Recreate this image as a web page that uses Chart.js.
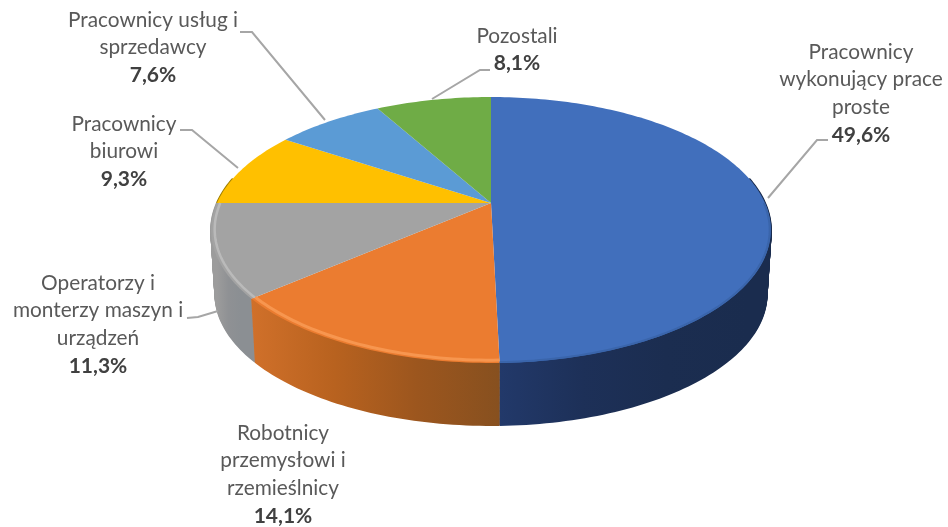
<!DOCTYPE html>
<html>
<head>
<meta charset="utf-8">
<title>Pracownicy</title>
<script src="https://cdn.jsdelivr.net/npm/chart.js@4"></script>
<style>
    html, body { margin: 0; background: #fff; }
    #wrap { width: 948px; height: 527px; filter: blur(0.4px); }
</style>
</head>
<body>
<div id="wrap"><canvas id="chart"></canvas></div>
<script>
// dane
const categories = [
    ["Pracownicy", "wykonujący prace", "proste"],
    ["Robotnicy", "przemysłowi i", "rzemieślnicy"],
    ["Operatorzy i", "monterzy maszyn i", "urządzeń"],
    ["Pracownicy", "biurowi"],
    ["Pracownicy usług i", "sprzedawcy"],
    ["Pozostali"]
];
const values = [49.6, 14.1, 11.3, 9.3, 7.6, 8.1];
const colors = ["#416FBC", "#EB7C30", "#A3A3A3", "#FFC000", "#5B9BD5", "#6FAC46"];

// ściana boczna: kolory gradientu od lewej do prawej
const wallColors = [
    ["#22396a", "#1d3058", "#1b2d50", "#1a2c4e"],
    ["#d0702a", "#b8621f", "#9c561e", "#87501f"],
    ["#9c9c9c", "#8f9194", "#8b8f93", "#8b8f93"],
    ["#a08000", "#a08000", "#a08000", "#a08000"],
    ["#3f6d96", "#3f6d96", "#3f6d96", "#3f6d96"],
    ["#4f7a32", "#4f7a32", "#4f7a32", "#4f7a32"]
];
// jaśniejszy pas przy krawędzi: kolor, promień, grubość
const rimStyles = [
    ["#3a65ab", 0.996, 2],
    ["#f7964f", 0.986, 3],
    ["#bababa", 0.988, 2.5]
];

// pozycje etykiet: środek x, y pierwszej linii
const labelPos = [[861, 52], [283, 433], [98, 283], [124, 124], [153, 20], [517, 36]];
const lineHeight = 27.7;

// linie odniesienia
const leaders = [
    [[828, 140], [817, 140], [768, 198]],
    [],
    [[187, 318], [198, 317], [218, 311]],
    [[180, 130], [192, 130], [238, 168]],
    [[240, 32], [252, 32], [325, 120]],
    [[490, 70], [480, 70], [432, 99]]
];

// rzut perspektywiczny tarczy (okrąg jednostkowy -> ekran)
const view = { cx: 491, cy: 203, rx: 274, ry: 127.5, p: 0.203, depthY: 64.4, depthScale: 0.985 };

function project(angle, r, t) {
    // t: 0 = góra tarczy, 1 = dół
    const u = Math.cos(angle) * r;
    const v = Math.sin(angle) * r;
    const s = 1 / (1 - view.p * v) * (1 + (view.depthScale - 1) * t);
    return [view.cx + view.rx * u * s, view.cy + view.depthY * t + view.ry * v * s];
}

function arcPath(ctx, a0, a1, r, t, first) {
    const steps = Math.max(2, Math.ceil(Math.abs(a1 - a0) / 0.02));
    for (let i = 0; i <= steps; i++) {
        const pt = project(a0 + (a1 - a0) * i / steps, r, t);
        if (i === 0 && first) ctx.moveTo(pt[0], pt[1]);
        else ctx.lineTo(pt[0], pt[1]);
    }
}

const pie3d = {
    id: "pie3d",
    beforeDatasetsDraw(chart) {
        const ctx = chart.ctx;
        const arcs = chart.getDatasetMeta(0).data;
        ctx.save();

        // ściany - warstwy od dołu do góry
        const layers = 64;
        for (let n = layers; n >= 0; n--) {
            const t = n / layers;
            arcs.forEach((arc, i) => {
                const a0 = Math.max(arc.startAngle, -0.2);
                const a1 = Math.min(arc.endAngle, Math.PI + 0.2);
                if (a1 <= a0) return;
                const x0 = project(a1, 1, 0)[0];
                const x1 = project(a0, 1, 0)[0];
                const g = ctx.createLinearGradient(Math.min(x0, x1), 0, Math.max(x0, x1), 0);
                wallColors[i].forEach((c, k) => g.addColorStop(k / 3, c));
                ctx.beginPath();
                arcPath(ctx, a0, a1, 1, t, true);
                ctx.strokeStyle = g;
                ctx.lineWidth = 2;
                ctx.stroke();
            });
        }

        // górna tarcza
        arcs.forEach((arc, i) => {
            ctx.beginPath();
            ctx.moveTo(view.cx, view.cy);
            arcPath(ctx, arc.startAngle, arc.endAngle, 1, 0, false);
            ctx.closePath();
            ctx.fillStyle = colors[i];
            ctx.fill();
        });

        // pas przy krawędzi z przodu
        rimStyles.forEach((rim, i) => {
            const arc = arcs[i];
            const a0 = Math.max(arc.startAngle, 0);
            const a1 = Math.min(arc.endAngle, Math.PI);
            ctx.beginPath();
            arcPath(ctx, a0, a1, rim[1], 0, true);
            ctx.strokeStyle = rim[0];
            ctx.lineWidth = rim[2];
            ctx.stroke();
        });

        // linie odniesienia
        ctx.strokeStyle = "#a6a6a6";
        ctx.lineWidth = 2;
        leaders.forEach(pts => {
            if (!pts.length) return;
            ctx.beginPath();
            pts.forEach((p, k) => k ? ctx.lineTo(p[0], p[1]) : ctx.moveTo(p[0], p[1]));
            ctx.stroke();
        });

        // etykiety
        ctx.textAlign = "center";
        ctx.textBaseline = "middle";
        categories.forEach((lines, i) => {
            const x = labelPos[i][0];
            let y = labelPos[i][1];
            ctx.font = "20.8px Lato";
            ctx.fillStyle = "#595959";
            lines.forEach(t => {
                ctx.fillText(t, x, y);
                y += lineHeight;
            });
            ctx.font = "bold 21px Lato";
            ctx.fillStyle = "#404040";
            ctx.fillText(values[i].toFixed(1).replace(".", ",") + "%", x, y);
        });

        ctx.restore();
        return false; // zwykłych łuków nie rysujemy
    }
};

new Chart(document.getElementById("chart"), {
    type: "pie",
    data: {
        labels: categories,
        datasets: [{ data: values, backgroundColor: colors, borderWidth: 0 }]
    },
    options: {
        responsive: true,
        maintainAspectRatio: false,
        animation: false,
        plugins: { legend: { display: false }, tooltip: { enabled: false } }
    },
    plugins: [pie3d]
});
</script>
</body>
</html>
